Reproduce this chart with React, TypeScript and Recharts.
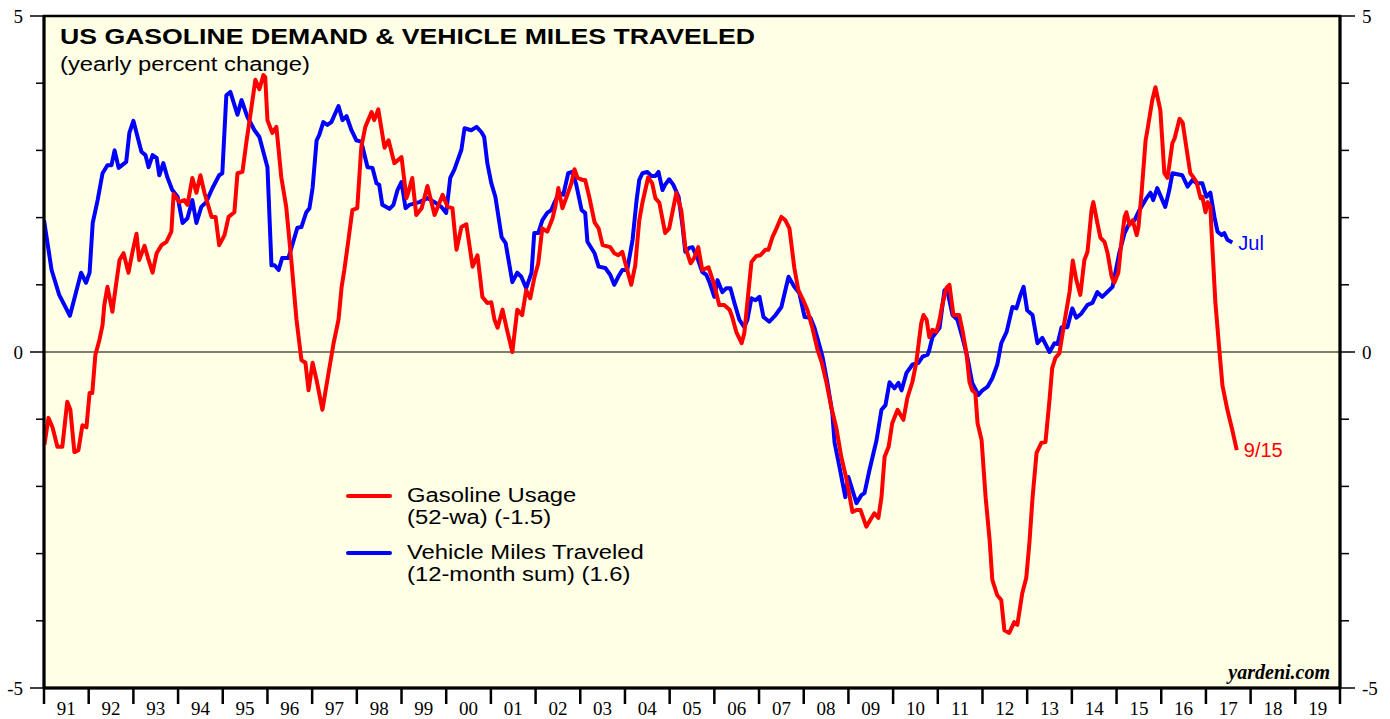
import React from "react";
import {
  LineChart,
  Line,
  XAxis,
  YAxis,
  ReferenceArea,
  ReferenceLine,
  ReferenceDot,
  Legend,
} from "recharts";

// Gasoline usage, 52-week average, yearly % change (decimal year / value)
const gasYears = [
  1991.01, 1991.1, 1991.19, 1991.3, 1991.41, 1991.52, 1991.59, 1991.68, 1991.77, 1991.86, 1991.95,
  1992.02, 1992.08, 1992.15, 1992.24, 1992.31, 1992.35, 1992.42, 1992.53, 1992.62, 1992.69, 1992.78, 1992.89, 1992.98,
  1993.07, 1993.13, 1993.25, 1993.34, 1993.43, 1993.52, 1993.63, 1993.74, 1993.85, 1993.9,
  1994.03, 1994.14, 1994.21, 1994.32, 1994.41, 1994.5, 1994.59, 1994.75, 1994.84, 1994.92,
  1995.04, 1995.13, 1995.26, 1995.33, 1995.44, 1995.53, 1995.64, 1995.73, 1995.82, 1995.91, 1995.95,
  1996.0, 1996.11, 1996.2, 1996.31, 1996.42, 1996.54, 1996.65, 1996.76, 1996.85, 1996.92,
  1997.01, 1997.1, 1997.23, 1997.34, 1997.48, 1997.59, 1997.66, 1997.72, 1997.79, 1997.9,
  1998.01, 1998.1, 1998.19, 1998.33, 1998.39, 1998.48, 1998.62, 1998.71, 1998.84,
  1999.0, 1999.11, 1999.15, 1999.24, 1999.33, 1999.45, 1999.58, 1999.74, 1999.92,
  2000.03, 2000.14, 2000.23, 2000.34, 2000.45, 2000.59, 2000.7, 2000.81, 2000.92,
  2001.01, 2001.08, 2001.15, 2001.26, 2001.35, 2001.48, 2001.59, 2001.7, 2001.79, 2001.88, 2001.97,
  2002.06, 2002.15, 2002.26, 2002.38, 2002.44, 2002.51, 2002.6, 2002.71, 2002.8, 2002.87, 2002.94,
  2003.05, 2003.11, 2003.2, 2003.32, 2003.41, 2003.5, 2003.67, 2003.76, 2003.85, 2003.94,
  2004.03, 2004.14, 2004.23, 2004.32, 2004.39, 2004.52, 2004.61, 2004.68, 2004.77, 2004.9, 2004.99,
  2005.15, 2005.26, 2005.35, 2005.47, 2005.55, 2005.64, 2005.73, 2005.87, 2005.98,
  2006.11, 2006.22, 2006.34, 2006.4, 2006.49, 2006.61, 2006.67, 2006.74, 2006.83, 2006.94,
  2007.03, 2007.14, 2007.21, 2007.3, 2007.39, 2007.5, 2007.59, 2007.68, 2007.79, 2007.88, 2007.99,
  2008.08, 2008.19, 2008.31, 2008.4, 2008.51, 2008.62, 2008.73, 2008.84, 2008.96,
  2009.09, 2009.18, 2009.27, 2009.4, 2009.49, 2009.58, 2009.67, 2009.74, 2009.81, 2009.9, 2009.98,
  2010.1, 2010.23, 2010.32, 2010.43, 2010.52, 2010.63, 2010.68, 2010.75, 2010.81, 2010.88, 2010.97,
  2011.04, 2011.1, 2011.19, 2011.26, 2011.35, 2011.48, 2011.55, 2011.64, 2011.71, 2011.77, 2011.84, 2011.89, 2011.98,
  2012.07, 2012.16, 2012.22, 2012.33, 2012.42, 2012.49, 2012.6, 2012.71, 2012.78, 2012.89, 2012.98,
  2013.05, 2013.12, 2013.21, 2013.32, 2013.41, 2013.5, 2013.56, 2013.63, 2013.72, 2013.83, 2013.95,
  2014.02, 2014.1, 2014.19, 2014.28, 2014.35, 2014.44, 2014.48, 2014.57, 2014.64, 2014.73, 2014.8, 2014.89, 2014.95,
  2015.04, 2015.11, 2015.18, 2015.22, 2015.29, 2015.36, 2015.45, 2015.49, 2015.56, 2015.65, 2015.69, 2015.8, 2015.87, 2015.98,
  2016.07, 2016.14, 2016.25, 2016.3, 2016.41, 2016.48, 2016.57, 2016.65, 2016.72, 2016.79, 2016.88, 2016.92, 2016.99,
  2017.04, 2017.1, 2017.12, 2017.21, 2017.3, 2017.37, 2017.48, 2017.59, 2017.69,
];
const gasValues = [
  -1.38, -0.98, -1.12, -1.41, -1.41, -0.74, -0.86, -1.49, -1.46, -1.09, -1.12,
  -0.61, -0.61, -0.04, 0.18, 0.4, 0.7, 0.97, 0.6, 1.04, 1.37, 1.47, 1.18, 1.49,
  1.76, 1.37, 1.58, 1.37, 1.18, 1.47, 1.59, 1.64, 1.79, 2.35,
  2.23, 2.26, 2.19, 2.59, 2.37, 2.63, 2.37, 2.01, 2.01, 1.59,
  1.74, 2.01, 2.08, 2.66, 2.68, 3.13, 3.63, 4.05, 3.91, 4.12, 4.09,
  3.45, 3.26, 3.35, 2.6, 2.16, 1.32, 0.48, -0.12, -0.16, -0.57,
  -0.16, -0.42, -0.86, -0.42, 0.13, 0.48, 0.97, 1.22, 1.56, 2.11,
  2.14, 3.05, 3.35, 3.57, 3.45, 3.61, 3.04, 3.15, 2.81,
  2.9, 2.29, 2.37, 2.59, 2.04, 2.14, 2.47, 2.04, 2.34,
  2.16, 2.14, 1.52, 1.86, 1.9, 1.27, 1.44, 0.82, 0.73,
  0.74, 0.48, 0.36, 0.63, 0.36, 0.0, 0.63, 0.55, 0.92, 0.8, 1.1,
  1.32, 1.84, 1.79, 1.99, 2.16, 2.44, 2.14, 2.34, 2.51, 2.72, 2.59,
  2.56, 2.56, 2.31, 1.93, 1.84, 1.59, 1.56, 1.47, 1.44, 1.49,
  1.27, 1.0, 1.29, 1.96, 2.22, 2.6, 2.51, 2.29, 2.22, 1.77, 1.84,
  2.37, 2.11, 1.56, 1.32, 1.4, 1.56, 1.22, 1.26, 1.04,
  0.7, 0.7, 0.63, 0.52, 0.3, 0.13, 0.28, 0.74, 1.34, 1.43,
  1.44, 1.52, 1.52, 1.71, 1.84, 2.01, 1.96, 1.84, 1.25, 0.92, 0.77,
  0.63, 0.37, 0.03, -0.15, -0.46, -0.83, -1.13, -1.56, -1.9,
  -2.38, -2.35, -2.35, -2.6, -2.5, -2.4, -2.47, -2.16, -1.56, -1.41, -1.06,
  -0.86, -1.01, -0.68, -0.45, -0.15, 0.43, 0.55, 0.48, 0.22, 0.33, 0.3,
  0.48, 0.7, 0.95, 1.0, 0.55, 0.55, 0.33, -0.01, -0.45, -0.57, -0.61, -1.06, -1.31,
  -2.16, -2.8, -3.39, -3.62, -3.69, -4.14, -4.18, -4.02, -4.06, -3.59, -3.36,
  -2.84, -2.17, -1.5, -1.35, -1.34, -0.71, -0.24, -0.09, -0.02, 0.43, 0.9,
  1.36, 1.07, 0.85, 1.37, 1.49, 2.11, 2.23, 1.92, 1.7, 1.64, 1.47, 1.12, 1.03,
  1.18, 1.64, 2.01, 2.08, 1.89, 1.96, 1.74, 1.86, 2.37, 3.15, 3.3, 3.75, 3.94, 3.6,
  2.66, 2.59, 3.11, 3.18, 3.47, 3.41, 3.01, 2.66, 2.6, 2.53, 2.29, 2.31, 2.08,
  2.23, 2.16, 1.86, 0.75, 0.03, -0.5, -0.86, -1.16, -1.46,
];

// Vehicle miles traveled, 12-month sum, yearly % change
const vmtYears = [
  1991.0, 1991.17, 1991.34, 1991.58, 1991.83, 1991.94,
  1992.02, 1992.09, 1992.2, 1992.31, 1992.42, 1992.51, 1992.58, 1992.67, 1992.84, 1992.91,
  1993.0, 1993.18, 1993.27, 1993.34, 1993.43, 1993.52, 1993.58, 1993.67, 1993.76, 1993.87, 1993.99,
  1994.1, 1994.21, 1994.32, 1994.41, 1994.52, 1994.63, 1994.77, 1994.92, 1994.99,
  1995.08, 1995.17, 1995.33, 1995.42, 1995.55, 1995.71, 1995.82,
  1996.0, 1996.09, 1996.16, 1996.25, 1996.33, 1996.47, 1996.67, 1996.76, 1996.87, 1996.94,
  1997.01, 1997.1, 1997.16, 1997.25, 1997.34, 1997.43, 1997.59, 1997.68, 1997.77, 1997.88, 1997.99,
  1998.1, 1998.24, 1998.35, 1998.44, 1998.5, 1998.57, 1998.73, 1998.82, 1998.91,
  1999.0, 1999.09, 1999.18, 1999.4, 1999.58, 1999.74, 1999.89,
  2000.0, 2000.09, 2000.18, 2000.34, 2000.41, 2000.56, 2000.68, 2000.79, 2000.85, 2000.92,
  2001.01, 2001.1, 2001.24, 2001.33, 2001.48, 2001.59, 2001.68, 2001.79, 2001.91, 2001.97,
  2002.06, 2002.15, 2002.26, 2002.35, 2002.42, 2002.53, 2002.62, 2002.73, 2002.82, 2002.91,
  2003.03, 2003.11, 2003.16, 2003.32, 2003.41, 2003.56, 2003.67, 2003.76, 2003.85, 2003.94,
  2004.05, 2004.17, 2004.26, 2004.32, 2004.39, 2004.5, 2004.59, 2004.68, 2004.75, 2004.84, 2004.9, 2004.99,
  2005.08, 2005.2, 2005.29, 2005.35, 2005.44, 2005.51, 2005.62, 2005.73, 2005.82, 2005.89,
  2006.0, 2006.07, 2006.18, 2006.27, 2006.36, 2006.45, 2006.56, 2006.67, 2006.74, 2006.83, 2006.92,
  2007.01, 2007.1, 2007.23, 2007.37, 2007.5, 2007.66, 2007.79, 2007.9,
  2008.02, 2008.15, 2008.24, 2008.33, 2008.42, 2008.53, 2008.64, 2008.69, 2008.8, 2008.93,
  2009.0, 2009.18, 2009.29, 2009.36, 2009.47, 2009.63, 2009.74, 2009.83, 2009.92,
  2010.03, 2010.12, 2010.19, 2010.3, 2010.43, 2010.57, 2010.66, 2010.77, 2010.81, 2010.88, 2010.95,
  2011.04, 2011.15, 2011.22, 2011.33, 2011.44, 2011.55, 2011.66, 2011.77, 2011.91,
  2012.0, 2012.11, 2012.22, 2012.33, 2012.42, 2012.54, 2012.67, 2012.76, 2012.85, 2012.92,
  2013.0, 2013.12, 2013.23, 2013.34, 2013.5, 2013.61, 2013.68, 2013.77, 2013.9,
  2014.01, 2014.1, 2014.21, 2014.35, 2014.46, 2014.57, 2014.68, 2014.91,
  2015.06, 2015.18, 2015.29, 2015.4, 2015.51, 2015.67, 2015.76, 2015.82, 2015.91,
  2016.09, 2016.18, 2016.25, 2016.47, 2016.59, 2016.7, 2016.79, 2016.92,
  2017.01, 2017.1, 2017.19, 2017.26, 2017.35, 2017.41, 2017.48, 2017.59,
];
const vmtValues = [
  1.96, 1.22, 0.85, 0.54, 1.18, 1.03,
  1.18, 1.92, 2.26, 2.66, 2.78, 2.78, 3.0, 2.74, 2.83, 3.26,
  3.44, 2.98, 2.93, 2.75, 2.93, 2.89, 2.63, 2.81, 2.6, 2.41, 2.31,
  1.92, 1.99, 2.26, 1.92, 2.16, 2.23, 2.44, 2.63, 2.66,
  3.82, 3.87, 3.53, 3.75, 3.5, 3.3, 3.2,
  2.75, 1.29, 1.29, 1.22, 1.4, 1.4, 1.85, 1.86, 2.08, 2.14,
  2.44, 3.15, 3.23, 3.42, 3.38, 3.42, 3.66, 3.45, 3.51, 3.3, 3.15,
  3.13, 2.75, 2.74, 2.51, 2.49, 2.19, 2.13, 2.19, 2.41,
  2.53, 2.14, 2.19, 2.23, 2.29, 2.23, 2.16,
  2.07, 2.59, 2.71, 3.01, 3.33, 3.3, 3.35, 3.27, 3.2, 2.81,
  2.51, 2.31, 1.71, 1.62, 1.04, 1.18, 1.12, 0.95, 1.18, 1.77,
  1.77, 1.96, 2.07, 2.11, 2.22, 2.37, 2.34, 2.66, 2.68, 2.49,
  2.11, 2.07, 1.64, 1.47, 1.27, 1.25, 1.15, 1.0, 1.12, 1.22,
  1.22, 1.67, 2.26, 2.56, 2.66, 2.68, 2.62, 2.62, 2.68, 2.41, 2.49, 2.57,
  2.49, 2.31, 1.86, 1.49, 1.55, 1.56, 1.4, 1.19, 1.15, 1.04,
  0.82, 1.07, 0.89, 0.95, 0.95, 0.73, 0.48, 0.37, 0.48, 0.8, 0.77,
  0.82, 0.52, 0.45, 0.55, 0.67, 1.12, 0.97, 0.88,
  0.52, 0.51, 0.36, 0.15, -0.07, -0.46, -0.91, -1.35, -1.71, -2.16,
  -1.86, -2.25, -2.13, -2.1, -1.76, -1.31, -0.86, -0.79, -0.45,
  -0.54, -0.46, -0.57, -0.31, -0.19, -0.16, -0.07, -0.04, 0.03, 0.22, 0.28,
  0.36, 0.92, 0.89, 0.55, 0.48, 0.22, -0.07, -0.46, -0.64,
  -0.57, -0.52, -0.39, -0.19, 0.13, 0.3, 0.67, 0.65, 0.85, 0.97,
  0.62, 0.55, 0.13, 0.21, 0.0, 0.13, 0.12, 0.37, 0.37,
  0.65, 0.51, 0.57, 0.7, 0.73, 0.89, 0.82, 0.97,
  1.47, 1.77, 1.92, 1.96, 2.11, 2.29, 2.37, 2.26, 2.44,
  2.16, 2.41, 2.66, 2.63, 2.46, 2.56, 2.51, 2.51,
  2.31, 2.37, 2.01, 1.79, 1.74, 1.77, 1.67, 1.63,
];

const yearStarts = [
  1991, 1992, 1993, 1994, 1995, 1996, 1997, 1998, 1999, 2000, 2001, 2002, 2003, 2004, 2005,
  2006, 2007, 2008, 2009, 2010, 2011, 2012, 2013, 2014, 2015, 2016, 2017, 2018, 2019, 2020,
];
const yearLabels = [
  "91", "92", "93", "94", "95", "96", "97", "98", "99", "00", "01", "02", "03", "04", "05",
  "06", "07", "08", "09", "10", "11", "12", "13", "14", "15", "16", "17", "18", "19",
];
const yTicks = [-5, -4, -3, -2, -1, 0, 1, 2, 3, 4, 5];
const yLabeled = [-5, 0, 5];

const legendItems = [
  { color: "#FF0000", lines: ["Gasoline Usage", "(52-wa) (-1.5)"] },
  { color: "#0000FF", lines: ["Vehicle Miles Traveled", "(12-month sum) (1.6)"] },
];
const gasEndLabel = "9/15";
const vmtEndLabel = "Jul";

const gasData = gasYears.map((t, i) => ({ t, v: gasValues[i] }));
const vmtData = vmtYears.map((t, i) => ({ t, v: vmtValues[i] }));

// ticks on year boundaries, labels in the middle of each year
const xTicks = [...yearStarts, ...yearStarts.slice(0, -1).map((y) => y + 0.5)].sort((a, b) => a - b);

const SANS = "'Liberation Sans', Arial, sans-serif";
const SERIF = "'Liberation Serif', 'Times New Roman', serif";

function XTick({ x, y, payload }: any) {
  const v = payload.value;
  if (Number.isInteger(v)) {
    return <line x1={x} x2={x} y1={y} y2={y + 16} stroke="#000" strokeWidth={2.5} />;
  }
  return (
    <text x={x} y={y + 26.5} textAnchor="middle" fontFamily={SERIF} fontSize={19} fill="#000">
      {yearLabels[Math.floor(v) - yearStarts[0]]}
    </text>
  );
}

function LeftTick({ x, y, payload }: any) {
  const major = yLabeled.includes(payload.value);
  return (
    <g>
      <line x1={x - (major ? 14 : 8)} x2={x} y1={y} y2={y} stroke="#000" strokeWidth={1.5} />
      {major && (
        <text x={x - 21} y={y + 6.5} textAnchor="end" fontFamily={SERIF} fontSize={19} fill="#000">
          {payload.value}
        </text>
      )}
    </g>
  );
}

function RightTick({ x, y, payload }: any) {
  const major = yLabeled.includes(payload.value);
  return (
    <g>
      <line x1={x} x2={x + (major ? 15 : 9)} y1={y} y2={y} stroke="#000" strokeWidth={1.5} />
      {major && (
        <text x={x + 22} y={y + 6.5} textAnchor="start" fontFamily={SERIF} fontSize={19} fill="#000">
          {payload.value}
        </text>
      )}
    </g>
  );
}

function LegendBox() {
  return (
    <div style={{ position: "relative", width: 320, height: 120, fontFamily: SANS }}>
      {legendItems.map((item, i) => (
        <div key={i} style={{ position: "absolute", left: 0, top: i * 57, width: 320 }}>
          <div
            style={{
              position: "absolute",
              left: 0,
              top: 12,
              width: 46,
              height: 4,
              background: item.color,
              borderRadius: 2,
            }}
          />
          <div
            style={{
              position: "absolute",
              left: 61,
              top: 2,
              fontSize: 20,
              lineHeight: "22px",
              color: "#000",
              whiteSpace: "nowrap",
              transform: "scaleX(1.19)",
              transformOrigin: "0 0",
            }}
          >
            {item.lines.map((l, j) => (
              <div key={j}>{l}</div>
            ))}
          </div>
        </div>
      ))}
    </div>
  );
}

export default function App() {
  const W = 1390;
  const H = 719;
  const lastGas = gasData[gasData.length - 1];
  const lastVmt = vmtData[vmtData.length - 1];
  return (
    <div style={{ position: "relative", width: W, height: H, background: "#fff" }}>
      <style>{"body{margin:0}"}</style>
      <LineChart width={W} height={H} margin={{ top: 16, right: 0, bottom: 0, left: 0 }}>
        <ReferenceArea
          yAxisId="left"
          x1={1991}
          x2={2020}
          y1={-5}
          y2={5}
          fill="#FFFFE6"
          fillOpacity={1}
          stroke="#000"
          strokeWidth={2.5}
        />
        <XAxis
          dataKey="t"
          type="number"
          domain={[1991, 2020]}
          ticks={xTicks}
          interval={0}
          height={31}
          tickSize={0}
          tickMargin={0}
          tickLine={false}
          axisLine={{ stroke: "#000", strokeWidth: 3 }}
          tick={<XTick />}
          allowDataOverflow
        />
        <YAxis
          yAxisId="left"
          type="number"
          domain={[-5, 5]}
          ticks={yTicks}
          interval={0}
          width={44}
          tickSize={0}
          tickMargin={0}
          tickLine={false}
          axisLine={{ stroke: "#000", strokeWidth: 3 }}
          tick={<LeftTick />}
          allowDataOverflow
        />
        <YAxis
          yAxisId="right"
          orientation="right"
          type="number"
          domain={[-5, 5]}
          ticks={yTicks}
          interval={0}
          width={50}
          tickSize={0}
          tickMargin={0}
          tickLine={false}
          axisLine={{ stroke: "#000", strokeWidth: 3 }}
          tick={<RightTick />}
          allowDataOverflow
        />
        <ReferenceLine yAxisId="left" y={0} stroke="#000" strokeWidth={1.2} />
        <Line
          yAxisId="left"
          data={vmtData}
          dataKey="v"
          name="Vehicle Miles Traveled"
          type="linear"
          stroke="#0000FF"
          strokeWidth={4}
          strokeLinejoin="round"
          dot={false}
          isAnimationActive={false}
        />
        <Line
          yAxisId="left"
          data={gasData}
          dataKey="v"
          name="Gasoline Usage"
          type="linear"
          stroke="#FF0000"
          strokeWidth={4}
          strokeLinejoin="round"
          dot={false}
          isAnimationActive={false}
        />
        <ReferenceDot
          yAxisId="left"
          x={lastVmt.t}
          y={lastVmt.v}
          r={1}
          fill="none"
          stroke="none"
          label={{ value: vmtEndLabel, position: "right", offset: 5, fill: "#0000FF", fontSize: 20, fontFamily: SANS }}
        />
        <ReferenceDot
          yAxisId="left"
          x={lastGas.t}
          y={lastGas.v}
          r={1}
          fill="none"
          stroke="none"
          label={{ value: gasEndLabel, position: "right", offset: 6, fill: "#FF0000", fontSize: 20, fontFamily: SANS }}
        />
        <Legend
          layout="vertical"
          align="center"
          verticalAlign="middle"
          content={<LegendBox />}
          wrapperStyle={{ position: "absolute", left: 346, top: 482, width: 320, height: 120 }}
        />
      </LineChart>
      <svg
        width={W}
        height={H}
        style={{ position: "absolute", left: 0, top: 0, pointerEvents: "none" }}
      >
        <text
          x={60}
          y={44}
          fontFamily={SANS}
          fontWeight="bold"
          fontSize={21.5}
          textLength={695}
          lengthAdjust="spacingAndGlyphs"
          fill="#000"
        >
          US GASOLINE DEMAND &amp; VEHICLE MILES TRAVELED
        </text>
        <text
          x={60}
          y={71}
          fontFamily={SANS}
          fontSize={20}
          textLength={250}
          lengthAdjust="spacingAndGlyphs"
          fill="#000"
        >
          (yearly percent change)
        </text>
        <text
          x={1330}
          y={679}
          textAnchor="end"
          fontFamily={SERIF}
          fontWeight="bold"
          fontStyle="italic"
          fontSize={20}
          fill="#000"
        >
          yardeni.com
        </text>
      </svg>
    </div>
  );
}
